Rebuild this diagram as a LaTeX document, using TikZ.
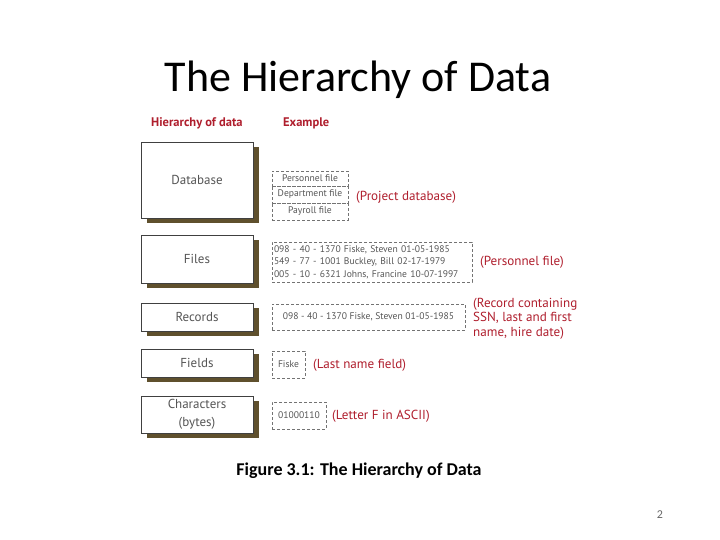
\documentclass[tikz,border=0pt]{standalone}
\usepackage{fontspec}
\setmainfont{Carlito}
\newfontfamily\dinfont{PT Sans}
\usetikzlibrary{shadows}
\definecolor{headred}{RGB}{175,30,45}
\definecolor{shadowbrown}{RGB}{95,80,45}
\definecolor{textgray}{RGB}{85,85,85}
\tikzset{
  level box/.style={draw=black!75, line width=0.7pt, fill=white, inner sep=0pt,
    minimum width=112pt, font=\dinfont\fontsize{13}{18}\selectfont, text=textgray,
    align=center,
    drop shadow={shadow xshift=6pt, shadow yshift=-5pt, fill=shadowbrown, opacity=1}},
  example box/.style={draw=black!55, dashed, dash pattern=on 3pt off 2pt, line width=0.6pt,
    inner sep=0pt, font=\dinfont\fontsize{9.6}{12.5}\selectfont, text=textgray, align=left},
  note/.style={font=\dinfont\fontsize{13.1}{14.5}\selectfont, text=headred, align=left, inner sep=0pt},
  colhead/.style={font=\dinfont\bfseries\fontsize{12.5}{14}\selectfont, text=headred, inner sep=0pt}
}
\begin{document}
\begin{tikzpicture}[x=1pt, y=-1pt]
  \useasboundingbox (0,0) rectangle (720,540);
  % title and caption
  \node[anchor=base, font=\fontsize{44}{48}\selectfont] (title) at (358,92) {The Hierarchy of Data};
  \node[anchor=base, font=\bfseries\fontsize{18}{20}\selectfont] (caption) at (359,475) {Figure 3.1: The Hierarchy of Data};
  \node[anchor=base, font=\fontsize{12}{14}\selectfont, text=black!60] (pagenum) at (660,518) {2};
  % column heads
  \node[colhead, anchor=west] (hhier) at (151,123) {Hierarchy of data};
  \node[colhead, anchor=west] (hex) at (283,123) {Example};
  % levels
  \node[level box, minimum height=76pt] (database) at (197,180) {Database};
  \node[level box, minimum height=48pt] (files) at (197,259) {Files};
  \node[level box, minimum height=28pt] (records) at (197,317) {Records};
  \node[level box, minimum height=28pt] (fields) at (197,363) {Fields};
  \node[level box, minimum height=37pt] (chars) at (197,414.5) {Characters\\(bytes)};
  % examples
  \node[example box, minimum width=76pt, minimum height=15pt, align=center] (personnel) at (310,178.5) {Personnel file};
  \node[example box, minimum width=76pt, minimum height=17pt, align=center] (department) at (310,194.5) {Department file};
  \node[example box, minimum width=76pt, minimum height=17pt, align=center] (payroll) at (310,211.5) {Payroll file};
  \node[note, anchor=west] (projdb) at (356,197) {(Project database)};
  \node[example box, minimum width=200pt, minimum height=40pt, text width=196pt] (filerecs) at (372,262)
    {098 - 40 - 1370 Fiske, Steven 01-05-1985\\549 - 77 - 1001 Buckley, Bill 02-17-1979\\005 - 10 - 6321 Johns, Francine 10-07-1997};
  \node[note, anchor=west] (persfile) at (480,262) {(Personnel file)};
  \node[example box, minimum width=193pt, minimum height=26pt, align=center] (onerec) at (368.5,317) {098 - 40 - 1370 Fiske, Steven 01-05-1985};
  \node[note, anchor=west] (recnote) at (473,318.5) {(Record containing\\SSN, last and first\\name, hire date)};
  \node[example box, minimum width=33pt, minimum height=27pt, align=center] (fiske) at (288.5,364.5) {Fiske};
  \node[note, anchor=west] (lastname) at (313,365) {(Last name field)};
  \node[example box, minimum width=54pt, minimum height=27pt, align=center] (byte) at (299,415.5) {01000110};
  \node[note, anchor=west] (letterf) at (332,416) {(Letter F in ASCII)};
\end{tikzpicture}
\end{document}
